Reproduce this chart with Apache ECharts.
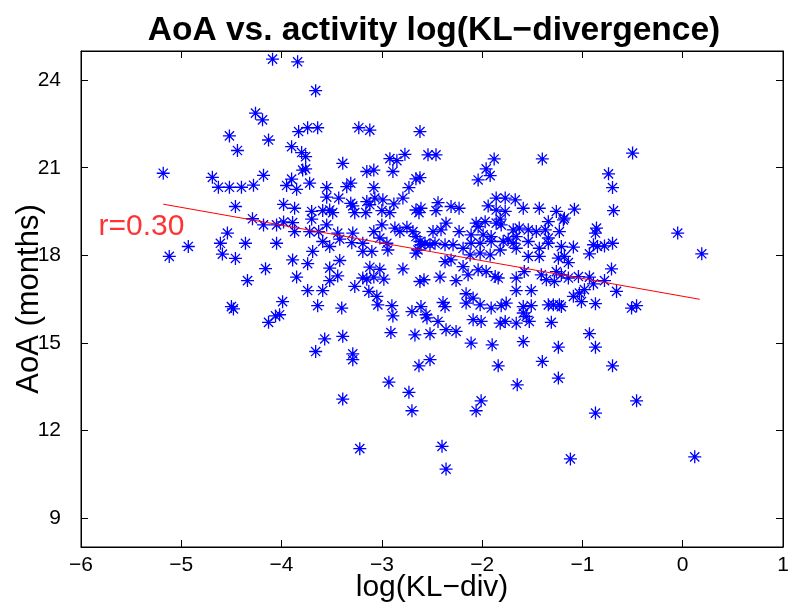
<!DOCTYPE html>
<html>
<head>
<meta charset="utf-8">
<script src="https://cdn.jsdelivr.net/npm/echarts@6/dist/echarts.min.js"></script>
<style>
html,body{margin:0;padding:0;background:#fff;}
#chart{width:790px;height:606px;}
</style>
</head>
<body>
<div id="chart"></div>
<script>
// log(KL-div) values
const xVals = [
-4.09,-4.26,-4.19,-4.52,-4.13,-4.44,-5.18,-4.69,-4.18,-4.63,-4.52,-4.40,-4.28,
-3.84,-3.66,-3.83,-3.74,-3.64,-3.23,-3.12,-2.62,-3.90,-3.80,-3.76,-3.39,-2.92,-2.85,-2.77,-3.79,-3.76,-3.15,-3.08,-2.89,-3.90,-3.95,-3.85,-3.72,-3.55,-3.35,-3.31,-3.08,-2.73,-2.66,-2.62,
-2.54,-2.46,-1.88,-1.40,-1.96,-1.92,-2.04,
-0.50,-0.74,-0.70,
-4.46,-4.29,-4.18,-4.05,-3.98,-3.98,-4.54,-4.93,-5.12,-4.61,-4.59,-4.46,-4.36,-4.05,-4.16,-4.34,-4.50,-4.48,-4.02,-4.06,-4.13,-3.99,
-3.87,-3.70,-3.70,-3.59,-3.52,-3.49,-3.55,-3.43,-3.31,-3.29,-3.27,-3.16,-3.15,-3.12,-3.07,-2.99,-3.00,-2.88,-2.92,-2.79,-2.66,-2.63,-2.61,
-3.89,-3.87,-3.72,-3.63,-3.55,-3.59,-3.52,-3.44,-3.42,-3.29,-3.30,-3.19,-3.08,-3.00,-3.02,-2.95,-2.94,-3.19,-3.10,-2.87,-2.82,-2.75,-2.69,-2.66,-2.62,-2.61,-2.64,-2.66,
-3.69,-3.89,-3.74,-3.42,-3.52,-3.85,-3.44,-3.52,-3.19,-3.12,-3.02,-3.15,-3.08,-2.98,-2.79,-3.27,-3.13,-3.74,-3.59,-3.05,-3.04,-2.90,-3.64,-3.40,-2.89,-2.70,-2.61,-2.62,
-3.57,-3.39,-3.66,-3.29,-3.29,-2.91,-2.67,-2.63,-2.93,-2.73,-2.70,-3.39,-3.22,
-2.44,-2.46,-2.31,-2.23,-1.94,-1.86,-1.77,-1.67,-1.86,-1.77,-1.59,-1.43,-1.26,
-2.36,-2.41,-2.49,-2.23,-2.06,-1.97,-2.04,-1.86,-1.81,-1.82,-1.69,-1.63,-1.54,-1.46,-1.34,-1.37,-1.23,
-2.11,-1.99,-1.91,-1.74,-1.66,
-2.57,-2.52,-2.47,-2.37,-2.29,-2.19,-2.11,-2.02,-1.91,-1.82,-1.79,-1.69,-1.66,-1.54,-1.54,-1.43,-1.43,-1.34,-1.34,-1.24,-2.12,-2.02,-1.92,
-2.37,-2.31,-2.19,-2.04,-1.96,-2.14,-1.87,-1.84,-1.66,-1.58,-1.41,-1.36,-1.28,-1.26,-2.42,-2.58,-2.26,
-1.66,-1.51,-2.16,-2.09,-2.16,-2.02,-2.39,-2.37,-1.91,-1.81,-1.76,-1.59,-1.51,-1.34,-1.29,-1.23,
-2.56,-2.55,-2.44,-2.09,-2.01,-1.82,-1.77,-1.66,-1.56,-1.59,-1.53,-1.31,-2.36,-2.26,-2.52,
-2.11,-1.90,-1.59,-1.24,-2.52,-1.84,-1.40,-1.24,-1.65,-2.01,-2.06,-2.40,-2.36,
-1.08,-1.18,-1.19,-0.69,-0.86,-0.87,-1.09,-1.21,-1.18,-1.14,-0.93,-0.89,-0.85,-0.78,-0.70,-0.05,0.19,
-0.71,-1.21,-1.14,-1.04,-0.93,-0.89,-0.78,-0.66,-1.09,-1.03,-0.98,-1.01,-0.87,-1.21,-0.51,-0.46,-0.93,
-0.87,-0.70,-0.46,-0.87,-1.12,0.12
];
// AoA (months) values
const yVals = [
24.72,22.87,22.64,22.09,21.95,21.59,20.81,20.67,20.74,20.33,20.33,20.33,20.40,
24.63,23.64,22.24,22.37,22.37,22.37,22.29,22.24,21.72,21.52,21.38,21.15,21.31,21.24,21.46,20.92,20.96,20.87,20.92,20.87,20.61,20.39,20.26,20.47,20.32,20.35,20.47,20.32,20.32,20.62,20.66,
21.44,21.44,21.30,21.30,20.96,20.73,20.58,
21.50,20.79,20.32,
19.67,19.25,19.04,19.04,19.74,19.14,18.76,18.30,17.96,18.41,18.04,17.89,18.41,18.41,17.54,17.13,16.24,16.16,15.96,15.92,15.70,16.41,
19.61,19.50,19.24,19.53,19.55,19.46,19.99,19.96,19.78,19.69,19.46,19.46,19.84,19.73,19.96,19.90,19.53,19.76,19.46,19.96,19.55,19.46,19.61,
19.12,18.81,18.81,18.81,19.04,18.47,18.30,18.76,18.55,18.76,18.43,18.41,18.81,19.04,18.59,18.41,18.18,18.13,18.13,18.93,18.81,18.96,18.81,18.64,18.47,18.36,18.18,18.07,
18.13,17.84,17.71,17.82,17.56,17.25,17.29,17.13,17.22,17.59,17.52,17.18,17.25,17.18,17.53,16.93,16.76,16.79,16.79,16.59,16.30,16.27,16.27,16.19,15.92,16.07,16.24,17.10,
15.13,15.22,14.70,14.62,14.42,15.35,15.27,14.21,13.65,13.30,12.67,13.07,11.37,
19.80,19.53,19.67,19.61,19.69,19.96,19.96,19.90,19.55,19.50,19.61,19.61,19.50,
19.10,18.87,18.81,18.81,19.10,19.15,18.98,19.10,19.04,19.24,18.87,18.93,18.87,18.81,19.15,18.87,18.81,
18.70,18.70,18.64,18.55,18.64,
18.41,18.36,18.41,18.36,18.36,18.24,18.41,18.41,18.47,18.18,18.47,18.41,18.24,18.47,17.96,18.24,17.96,18.59,18.41,17.90,18.01,18.07,18.01,
17.78,17.84,17.61,17.50,17.44,17.33,17.27,17.22,17.22,17.44,17.33,17.16,17.10,17.44,17.25,17.16,17.13,
16.79,16.79,16.68,16.53,16.36,16.30,16.38,16.24,16.19,16.27,16.36,16.24,16.27,16.30,16.30,16.30,
15.96,15.85,15.73,15.79,15.73,15.67,15.73,15.67,15.90,16.02,15.73,15.70,15.45,15.39,15.31,
14.99,14.93,15.04,14.85,14.42,14.21,14.36,13.79,13.56,13.01,12.67,11.45,10.67,
19.58,19.27,19.21,19.53,18.93,18.76,18.28,18.30,17.96,17.75,18.05,18.36,18.30,18.32,18.41,18.76,18.05,
17.53,17.33,17.22,17.27,17.25,17.02,17.13,16.76,16.59,16.70,16.82,16.41,16.34,16.24,16.19,16.27,15.31,
14.85,14.21,13.01,12.59,11.02,11.09
];
// regression line end points
const fitX = [-5.18, 0.17];
const fitY = [19.75, 16.49];
const rLabel = 'r=0.30';
const rPos = [-5.83, 18.97];

const xTicks = [-6,-5,-4,-3,-2,-1,0,1];
const yTicks = [9,12,15,18,21,24];

const points = xVals.map((v,i)=>[v, yVals[i]]);
const fitData = fitX.map((v,i)=>[v, fitY[i]]);

const FONT = 'Liberation Sans, Arial, Helvetica, sans-serif';
const fmt = v => String(v).replace('-', '\u2212');
const star = 'path://M5,0L5,10M0,5L10,5M1.46,1.46L8.54,8.54M8.54,1.46L1.46,8.54';

const chart = echarts.init(document.getElementById('chart'), null, {renderer:'canvas'});
const tickStyle = {inside:true, length:7, lineStyle:{color:'#000', width:1}};
const lineStyle = {show:true, onZero:false, lineStyle:{color:'#000', width:1}};
chart.setOption({
  animation:false,
  backgroundColor:'#fff',
  title:{
    text:'AoA vs. activity log(KL\u2212divergence)',
    left:429, top:9, textAlign:'center',
    textStyle:{fontFamily:FONT, fontSize:33.5, fontWeight:'bold', color:'#000'}
  },
  grid:{left:81, right:7, top:51, bottom:59, show:true, borderColor:'#000', borderWidth:1,
        backgroundColor:'#fff', containLabel:false, outerBoundsMode:'none'},
  xAxis:[{
    type:'value', min:-6, max:1, interval:1, position:'bottom',
    name:'log(KL\u2212div)', nameLocation:'middle', nameGap:26, nameMoveOverlap:false,
    nameTextStyle:{fontFamily:FONT, fontSize:30, color:'#000'},
    axisLine:lineStyle,
    axisTick:tickStyle,
    axisLabel:{fontFamily:FONT, fontSize:21, color:'#000', margin:8, formatter:fmt},
    splitLine:{show:false}
  },{
    type:'value', min:-6, max:1, interval:1, position:'top',
    axisLine:lineStyle,
    axisTick:tickStyle, axisLabel:{show:false}, splitLine:{show:false}
  }],
  yAxis:[{
    type:'value', min:8, max:25, position:'left',
    name:'AoA (months)', nameLocation:'middle', nameGap:36, nameRotate:90, nameMoveOverlap:false,
    nameTextStyle:{fontFamily:FONT, fontSize:31, color:'#000'},
    axisLine:lineStyle,
    axisTick:Object.assign({customValues:yTicks}, tickStyle),
    axisLabel:{fontFamily:FONT, fontSize:21, color:'#000', margin:20, customValues:yTicks},
    splitLine:{show:false}
  },{
    type:'value', min:8, max:25, position:'right',
    axisLine:lineStyle,
    axisTick:Object.assign({customValues:yTicks}, tickStyle),
    axisLabel:{show:false}, splitLine:{show:false}
  }],
  series:[{
    type:'scatter',
    data:points,
    symbol:star,
    symbolSize:13,
    large:false,
    itemStyle:{color:'#0000ff', borderColor:'#0000ff', borderWidth:1.3, opacity:1},
    emphasis:{disabled:true},
    silent:true
  },{
    type:'line',
    data:fitData,
    symbol:'none',
    lineStyle:{color:'#ff0000', width:1},
    silent:true,
    z:3
  },{
    type:'scatter',
    data:[rPos],
    symbolSize:1,
    itemStyle:{color:'rgba(0,0,0,0)'},
    label:{show:true, position:'right', distance:0, formatter:rLabel,
      fontFamily:FONT, fontSize:30, color:'#ff0000'},
    silent:true
  }]
});
</script>
</body>
</html>
